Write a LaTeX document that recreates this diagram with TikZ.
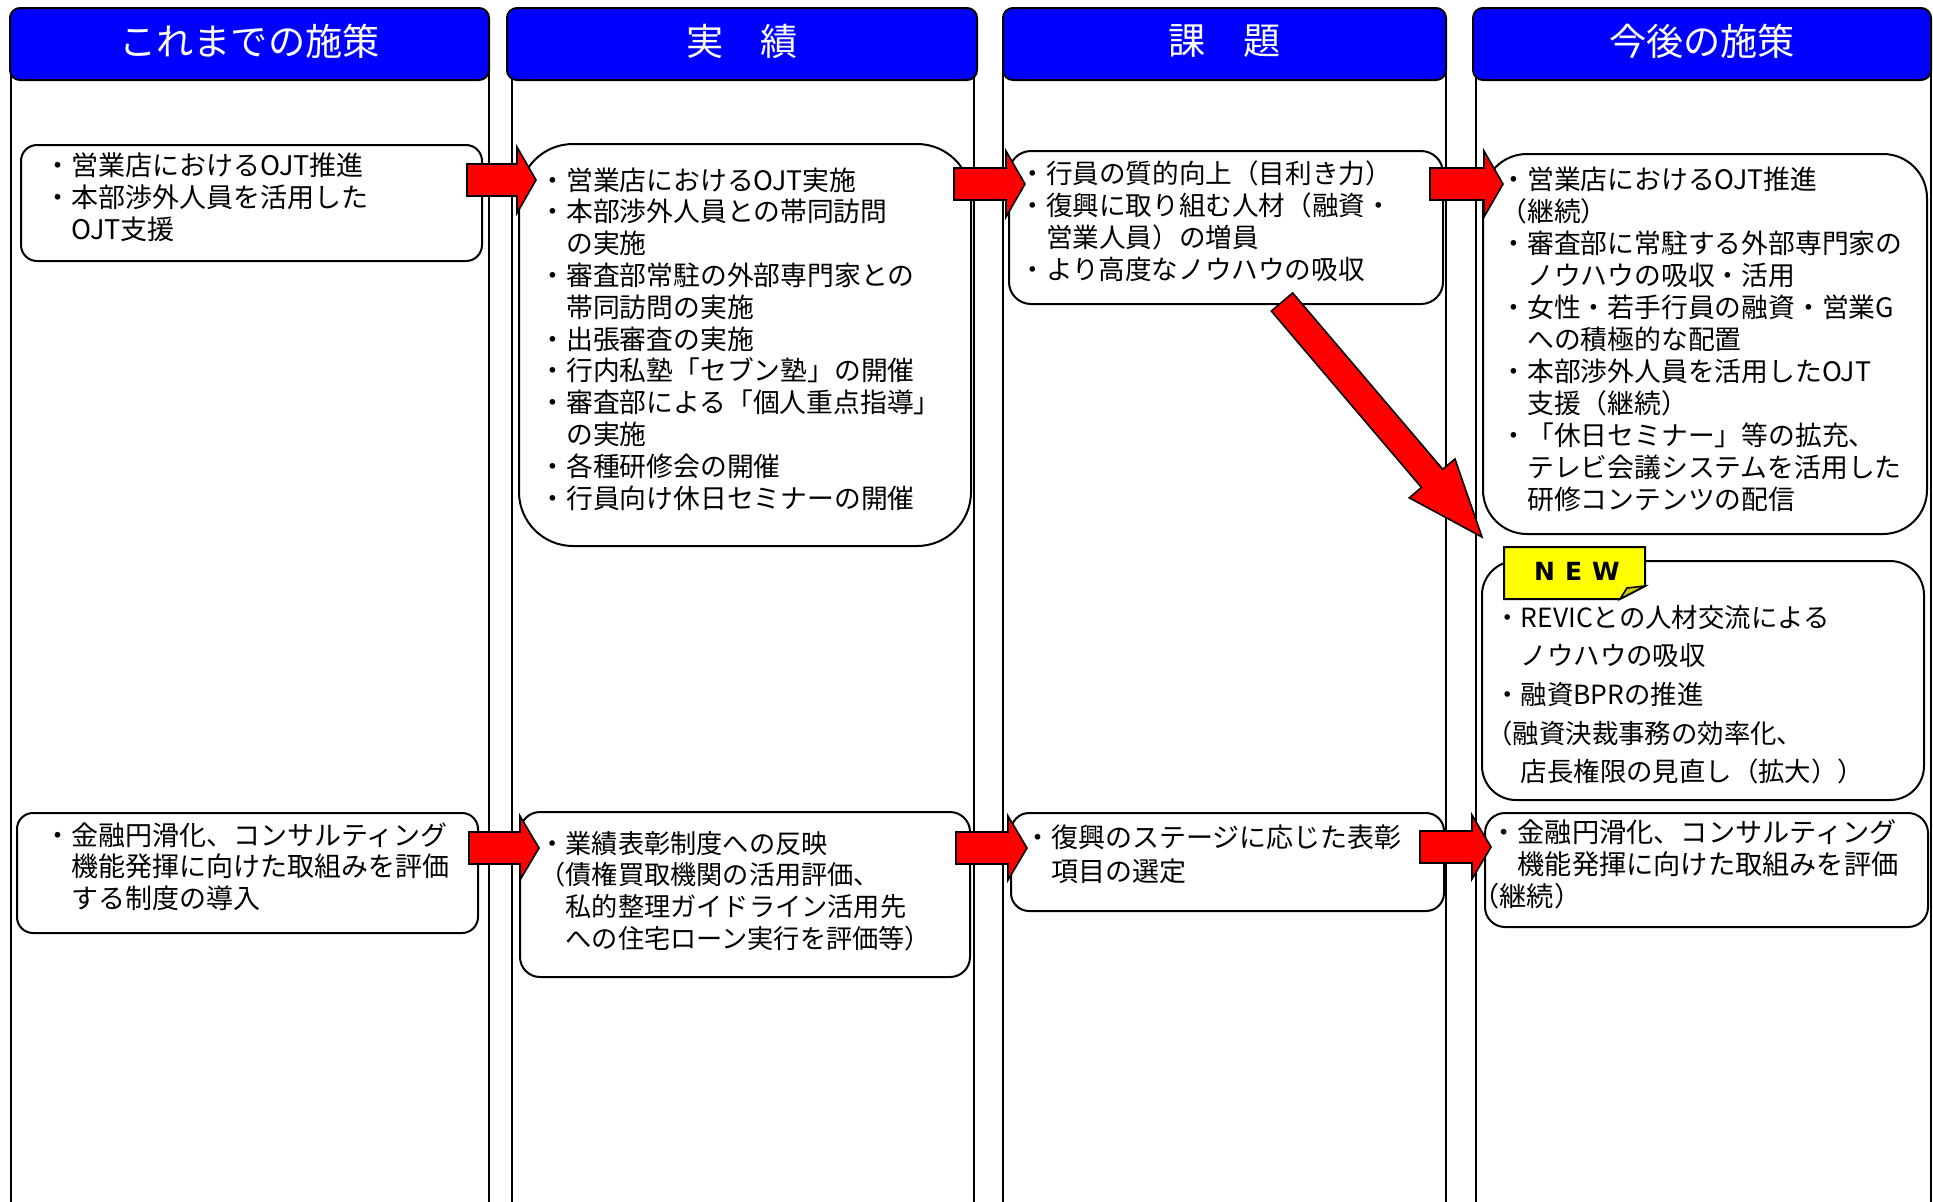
\documentclass[tikz,border=0pt]{standalone}
\usepackage{fontspec}
\setmainfont{Noto Sans CJK JP}
\newfontfamily\tagfont{DejaVu Sans}
\usetikzlibrary{calc}
\definecolor{hdrblue}{RGB}{0,0,255}
\definecolor{arrred}{RGB}{255,0,0}
\definecolor{tagyellow}{RGB}{255,255,0}
\tikzset{
  colframe/.style={draw=black, line width=0.8pt},
  header/.style={draw=black, line width=1pt, fill=hdrblue, rounded corners=5pt, inner sep=0pt},
  title/.style={inner sep=0pt, text=white, font=\fontsize{18.6pt}{20pt}\selectfont},
  box/.style={draw=black, line width=1pt, fill=white, inner sep=0pt, anchor=north west},
  txt/.style={anchor=base west, inner sep=0pt, text width=240pt, align=left,
    font=\fontsize{13pt}{16pt}\selectfont},
  blockarr/.style={draw=black, line width=0.8pt, fill=arrred, line join=miter},
}
\newcommand\blockarrow[5]{%
  \coordinate (bahead) at ($(#2)!#5!(#1)$);
  \draw[blockarr] ($(#1)!#3!90:(#2)$) -- ($(bahead)!#3!90:(#2)$) -- ($(bahead)!#4!90:(#2)$)
    -- (#2) -- ($(bahead)!#4!-90:(#2)$) -- ($(bahead)!#3!-90:(#2)$) -- ($(#1)!#3!-90:(#2)$) -- cycle;}
\begin{document}
\begin{tikzpicture}[x=0.5pt,y=-0.5pt]
\useasboundingbox (0,0) rectangle (1933,1201);
\clip (0,0) rectangle (1933,1201);
\fill[white] (0,0) rectangle (1933,1201);
% column frames
\draw[colframe] (11,40) rectangle (489,1220);
\draw[colframe] (512,40) rectangle (974,1220);
\draw[colframe] (1003,40) rectangle (1446,1220);
\draw[colframe] (1476,40) rectangle (1931,1220);
% headers
\node[header, minimum width=239.5pt, minimum height=36pt] (h1) at (249.5,44) {};
\node[header, minimum width=235pt, minimum height=36pt] (h2) at (742,44) {};
\node[header, minimum width=221.5pt, minimum height=36pt] (h3) at (1224.5,44) {};
\node[header, minimum width=229pt, minimum height=36pt] (h4) at (1702,44) {};
\node[title] (t1) at ($(h1.center)+(0,-3)$) {これまでの施策};
\node[title] (t2) at ($(h2.center)+(0,-3)$) {実　績};
\node[title] (t3) at ($(h3.center)+(0,-3)$) {課　題};
\node[title] (t4) at ($(h4.center)+(0,-3)$) {今後の施策};
% boxes
\node[box, rounded corners=8pt, minimum width=230.5pt, minimum height=58pt] (a1) at (20,144) {};
\node[box, rounded corners=27pt, minimum width=226pt, minimum height=201pt] (a2) at (518,143) {};
\node[box, rounded corners=11pt, minimum width=217pt, minimum height=76.5pt] (a3) at (1008,150) {};
\node[box, rounded corners=22pt, minimum width=222pt, minimum height=190pt] (a4) at (1482,153) {};
\node[box, rounded corners=17pt, minimum width=221pt, minimum height=119.5pt] (nb) at (1481,560) {};
\node[box, rounded corners=8pt, minimum width=230.5pt, minimum height=60pt] (b1) at (16,812) {};
\node[box, rounded corners=10pt, minimum width=225pt, minimum height=82.5pt] (b2) at (519,811) {};
\node[box, rounded corners=9pt, minimum width=216.5pt, minimum height=49pt] (b3) at (1010,812) {};
\node[box, rounded corners=10pt, minimum width=221.5pt, minimum height=57pt] (b4) at (1484,812) {};
% texts
\node[txt, font=\fontsize{13.5pt}{16pt}\selectfont] (ta1) at (44,175) {・営業店におけるOJT推進\\・本部渉外人員を活用した\\　OJT支援};
\node[txt, font=\fontsize{13.4pt}{15.9pt}\selectfont] (ta2) at (539,190) {・営業店におけるOJT実施\\・本部渉外人員との帯同訪問\\　の実施\\・審査部常駐の外部専門家との\\　帯同訪問の実施\\・出張審査の実施\\・行内私塾「セブン塾」の開催\\・審査部による「個人重点指導」\\　の実施\\・各種研修会の開催\\・行員向け休日セミナーの開催};
\node[txt, font=\fontsize{13.3pt}{16.15pt}\selectfont] (ta3) at (1019,183) {・行員の質的向上（目利き力）\\・復興に取り組む人材（融資・\\　営業人員）の増員\\・より高度なノウハウの吸収};
\node[txt, font=\fontsize{13.4pt}{16pt}\selectfont] (ta4) at (1500,189) {・営業店におけるOJT推進\\（継続）\\・審査部に常駐する外部専門家の\\　ノウハウの吸収・活用\\・女性・若手行員の融資・営業G\\　への積極的な配置\\・本部渉外人員を活用したOJT\\　支援（継続）\\・「休日セミナー」等の拡充、\\　テレビ会議システムを活用した\\　研修コンテンツの配信};
\node[txt, font=\fontsize{13.2pt}{19.35pt}\selectfont] (tnb) at (1494,627) {・REVICとの人材交流による\\　ノウハウの吸収\\・融資BPRの推進\\\hspace*{-4pt}（融資決裁事務の効率化、\\　店長権限の見直し（拡大））};
\node[txt, font=\fontsize{13.5pt}{15.8pt}\selectfont] (tb1) at (44,845) {・金融円滑化、コンサルティング\\　機能発揮に向けた取組みを評価\\　する制度の導入};
\node[txt, font=\fontsize{13.1pt}{15.85pt}\selectfont] (tb2) at (539,853) {・業績表彰制度への反映\\（債権買取機関の活用評価、\\　私的整理ガイドライン活用先\\　への住宅ローン実行を評価等）};
\node[txt, font=\fontsize{13.5pt}{17pt}\selectfont] (tb3) at (1024,847) {・復興のステージに応じた表彰\\　項目の選定};
\node[txt, font=\fontsize{13.6pt}{16pt}\selectfont] (tb4) at (1490,842) {・金融円滑化、コンサルティング\\　機能発揮に向けた取組みを評価\\\hspace*{-9pt}（継続）};
% arrows
\coordinate (ar1s) at ($(a1.north east)+(-16,36)$);
\coordinate (ar1e) at ($(a2.north west)+(18,37)$);
\coordinate (ar2s) at ($(a2.north east)+(-18,41)$);
\coordinate (ar2e) at ($(a3.north west)+(17,34)$);
\coordinate (ar3s) at ($(a3.north east)+(-14,34)$);
\coordinate (ar3e) at ($(a4.north west)+(21,31)$);
\coordinate (ar4s) at ($(b1.north east)+(-10,36)$);
\coordinate (ar4e) at ($(b2.north west)+(20,37)$);
\coordinate (ar5s) at ($(b2.north east)+(-15,37)$);
\coordinate (ar5e) at ($(b3.north west)+(17,36)$);
\coordinate (ar6s) at ($(b3.north east)+(-25,35)$);
\coordinate (ar6e) at ($(b4.north west)+(7,35)$);
\coordinate (ards) at ($(a3.south west)+(274,-3)$);
\coordinate (arde) at ($(nb.north west)+(1,-23)$);
\blockarrow{ar1s}{ar1e}{8pt}{16.5pt}{9.5pt}
\blockarrow{ar2s}{ar2e}{8pt}{16.5pt}{9.5pt}
\blockarrow{ar3s}{ar3e}{8pt}{16.5pt}{9.5pt}
\blockarrow{ar4s}{ar4e}{8pt}{16pt}{9.5pt}
\blockarrow{ar5s}{ar5e}{8pt}{16pt}{9.5pt}
\blockarrow{ar6s}{ar6e}{8pt}{16pt}{9.5pt}
\blockarrow{ards}{arde}{7pt}{15pt}{38.5pt}
% NEW tag
\draw[line width=1pt, fill=tagyellow, line join=miter] (1504,547) -- (1645,547) -- (1645,586) -- (1620,599) -- (1504,599) -- cycle;
\draw[line width=0.8pt, fill=tagyellow!80!black, line join=miter] (1620,599) -- (1627,588) -- (1645,586) -- cycle;
\node[inner sep=0pt, font=\tagfont\bfseries\fontsize{12.5pt}{14pt}\selectfont] (newtag) at (1577,571) {N\hspace{5pt}E\hspace{5pt}W};
\end{tikzpicture}
\end{document}
